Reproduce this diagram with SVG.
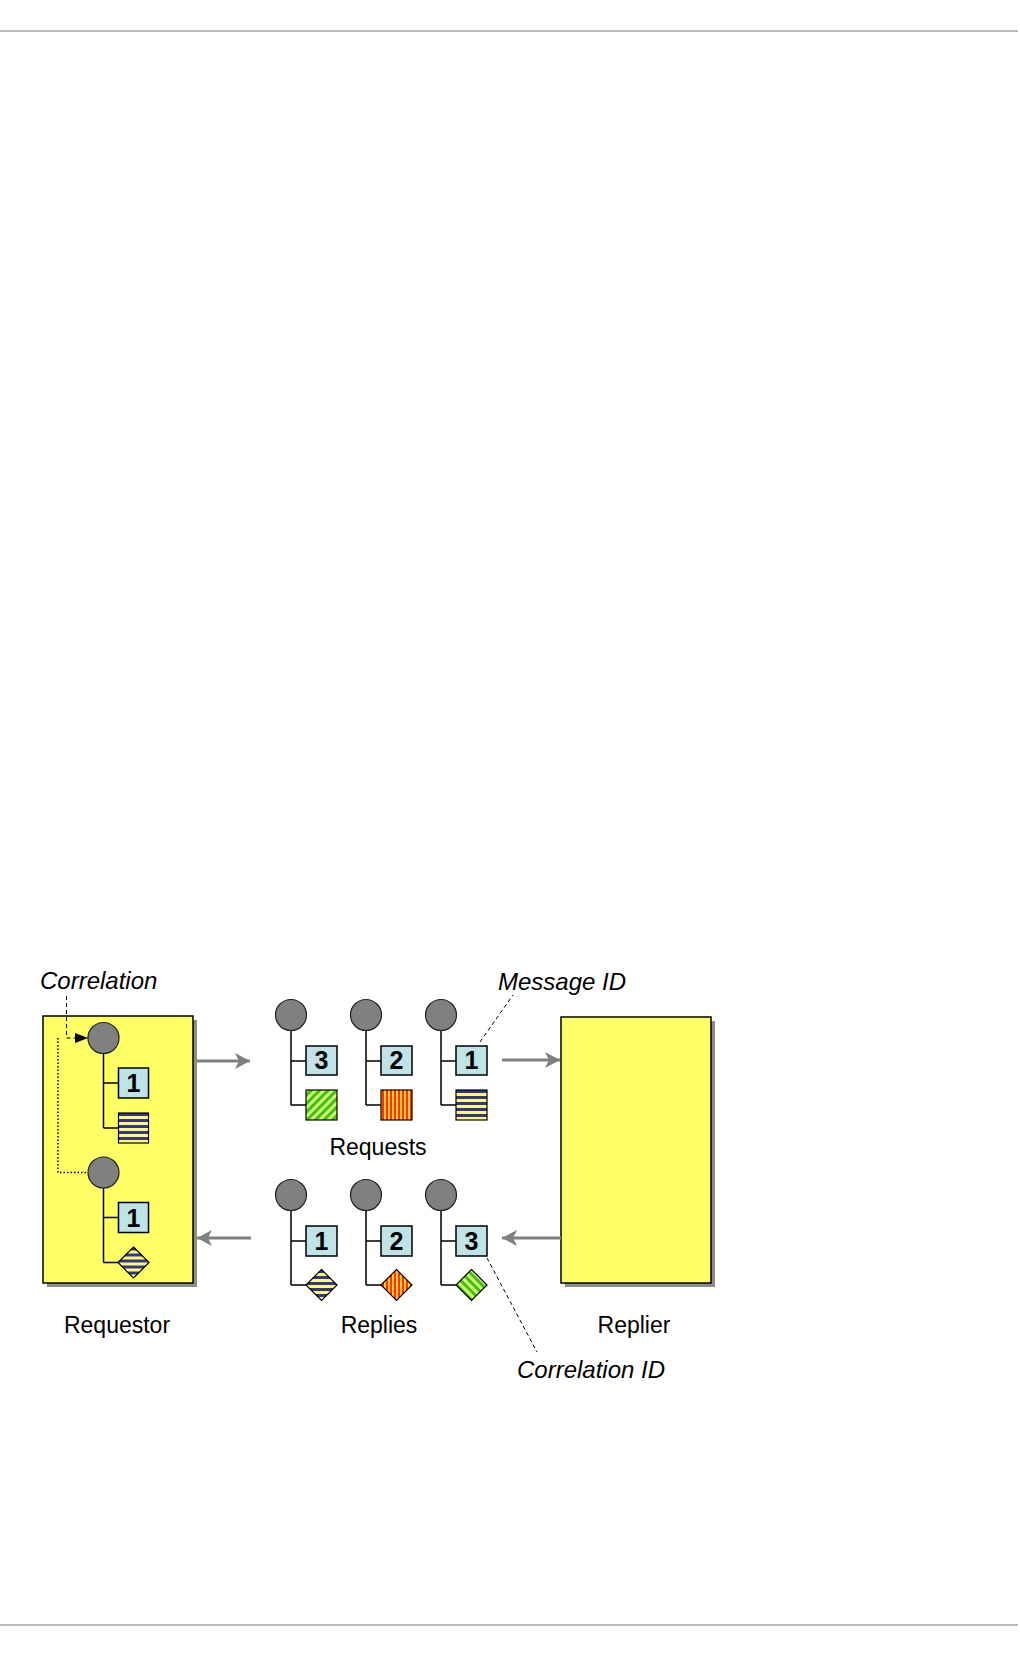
<svg xmlns="http://www.w3.org/2000/svg" width="1020" height="1656" viewBox="0 0 1020 1656">
<style>
.rule{stroke:#bbbbbb;stroke-width:2}
.box{fill:#ffff66;stroke:#000;stroke-width:1.5}
.shadow{fill:#8c8c8c}
.stem{fill:none;stroke:#000;stroke-width:1.5}
.head{fill:#808080;stroke:#222;stroke-width:1.2}
.num{fill:#bfe3e6;stroke:#000;stroke-width:1.5}
.numt{font-family:"Liberation Sans",Arial,sans-serif;font-weight:bold;font-size:25px;text-anchor:middle;fill:#000}
.body{stroke:#000;stroke-width:1.2}
.flow{fill:none;stroke:#808080;stroke-width:3}
.lbl{font-family:"Liberation Sans",Arial,sans-serif;font-size:23px;fill:#000;text-anchor:middle}
.ann{font-family:"Liberation Sans",Arial,sans-serif;font-style:italic;font-size:24px;fill:#000}
.lead{fill:none;stroke:#000;stroke-width:1;stroke-dasharray:4,3}
.dot{fill:none;stroke:#000;stroke-width:1.5;stroke-dasharray:1.5,2}
</style>
<defs>
<pattern id="pBlue" width="31" height="6" patternUnits="userSpaceOnUse">
<rect width="31" height="6" fill="#ffff66"/><rect y="3" width="31" height="3" fill="#333399"/>
</pattern>
<pattern id="pOrange" width="4" height="31" patternUnits="userSpaceOnUse">
<rect width="4" height="31" fill="#ffcc33"/><rect width="2" height="31" fill="#ff3300"/>
</pattern>
<pattern id="pGreen" width="6" height="31" patternUnits="userSpaceOnUse" patternTransform="rotate(45)">
<rect width="6" height="31" fill="#ccff66"/><rect width="3" height="31" fill="#44bb22"/>
</pattern>
<pattern id="pGreenD" width="6" height="31" patternUnits="userSpaceOnUse" patternTransform="rotate(-45)">
<rect width="6" height="31" fill="#ccff66"/><rect width="3" height="31" fill="#44bb22"/>
</pattern>
<marker id="ga" markerUnits="userSpaceOnUse" markerWidth="16" markerHeight="18" refX="15" refY="9" orient="auto">
<path d="M0,1 L15,9 L0,17 L4,9 Z" fill="#808080"/>
</marker>
<marker id="ba" markerUnits="userSpaceOnUse" markerWidth="14" markerHeight="12" refX="13" refY="6" orient="auto">
<path d="M0,1 L13,6 L0,11 Z" fill="#000"/>
</marker>
</defs>

<line class="rule" x1="0" y1="31" x2="1018" y2="31"/>
<line class="rule" x1="0" y1="1625" x2="1018" y2="1625"/>

<g id="requestor">
<rect class="shadow" x="47" y="1020" width="150" height="267"/>
<rect class="box" x="43" y="1016" width="150" height="267"/>
<text class="lbl" x="117" y="1333">Requestor</text>
</g>

<g id="replier">
<rect class="shadow" x="565" y="1021" width="150" height="266"/>
<rect class="box" x="561" y="1017" width="150" height="266"/>
<text class="lbl" x="634" y="1333">Replier</text>
</g>

<g id="requestor-msg1" transform="translate(103.5,1038)">
<path class="stem" d="M0,15 V90 M0,45 H15 M0,90 H15"/>
<circle class="head" cx="0" cy="0" r="15.5"/>
<rect class="num" x="15" y="30" width="30" height="30"/>
<text class="numt" x="30" y="54">1</text>
<rect class="body" x="15" y="75" width="30" height="30" fill="url(#pBlue)"/>
</g>

<g id="requestor-msg2" transform="translate(103.5,1172.5)">
<path class="stem" d="M0,15 V90 M0,45 H15 M0,90 H15"/>
<circle class="head" cx="0" cy="0" r="15.5"/>
<rect class="num" x="15" y="30" width="30" height="30"/>
<text class="numt" x="30" y="54">1</text>
<path class="body" d="M30,74.5 L45.5,90 L30,105.5 L14.5,90 Z" fill="url(#pBlue)"/>
</g>

<g id="request3" transform="translate(291,1015)">
<path class="stem" d="M0,15 V90 M0,46 H15 M0,90 H15"/>
<circle class="head" cx="0" cy="0" r="15.5"/>
<rect class="num" x="15" y="31" width="31" height="29"/>
<text class="numt" x="30.5" y="54">3</text>
<rect class="body" x="15" y="75" width="31" height="30" fill="url(#pGreen)"/>
</g>

<g id="request2" transform="translate(366,1015)">
<path class="stem" d="M0,15 V90 M0,46 H15 M0,90 H15"/>
<circle class="head" cx="0" cy="0" r="15.5"/>
<rect class="num" x="15" y="31" width="31" height="29"/>
<text class="numt" x="30.5" y="54">2</text>
<rect class="body" x="15" y="75" width="31" height="30" fill="url(#pOrange)"/>
</g>

<g id="request1" transform="translate(441,1015)">
<path class="stem" d="M0,15 V90 M0,46 H15 M0,90 H15"/>
<circle class="head" cx="0" cy="0" r="15.5"/>
<rect class="num" x="15" y="31" width="31" height="29"/>
<text class="numt" x="30.5" y="54">1</text>
<rect class="body" x="15" y="75" width="31" height="30" fill="url(#pBlue)"/>
</g>

<g id="requests-label"><text class="lbl" x="378" y="1155">Requests</text></g>

<g id="reply1" transform="translate(291,1195)">
<path class="stem" d="M0,15 V90 M0,46 H15 M0,90 H15"/>
<circle class="head" cx="0" cy="0" r="15.5"/>
<rect class="num" x="15" y="31" width="31" height="30"/>
<text class="numt" x="30.5" y="54.5">1</text>
<path class="body" d="M30.5,74.5 L46,90 L30.5,105.5 L15,90 Z" fill="url(#pBlue)"/>
</g>

<g id="reply2" transform="translate(366,1195)">
<path class="stem" d="M0,15 V90 M0,46 H15 M0,90 H15"/>
<circle class="head" cx="0" cy="0" r="15.5"/>
<rect class="num" x="15" y="31" width="31" height="30"/>
<text class="numt" x="30.5" y="54.5">2</text>
<path class="body" d="M30.5,74.5 L46,90 L30.5,105.5 L15,90 Z" fill="url(#pOrange)"/>
</g>

<g id="reply3" transform="translate(441,1195)">
<path class="stem" d="M0,15 V90 M0,46 H15 M0,90 H15"/>
<circle class="head" cx="0" cy="0" r="15.5"/>
<rect class="num" x="15" y="31" width="31" height="30"/>
<text class="numt" x="30.5" y="54.5">3</text>
<path class="body" d="M30.5,74.5 L46,90 L30.5,105.5 L15,90 Z" fill="url(#pGreenD)"/>
</g>

<g id="replies-label"><text class="lbl" x="379" y="1333">Replies</text></g>

<g id="annotations">
<text class="ann" x="40" y="989">Correlation</text>
<text class="ann" x="498" y="990">Message ID</text>
<text class="ann" x="517" y="1378">Correlation ID</text>
</g>

<g id="connectors">
<line class="flow" x1="197" y1="1061" x2="250" y2="1061" marker-end="url(#ga)"/>
<line class="flow" x1="502" y1="1060" x2="560" y2="1060" marker-end="url(#ga)"/>
<line class="flow" x1="561" y1="1238" x2="502" y2="1238" marker-end="url(#ga)"/>
<line class="flow" x1="251" y1="1238" x2="197" y2="1238" marker-end="url(#ga)"/>
<path class="lead" d="M66.5,996 V1038 H88" marker-end="url(#ba)"/>
<path class="dot" d="M58,1038 V1172.5 H88"/>
<line class="lead" x1="480" y1="1042" x2="513" y2="995"/>
<line class="lead" x1="487" y1="1258" x2="537" y2="1352"/>
</g>
</svg>
